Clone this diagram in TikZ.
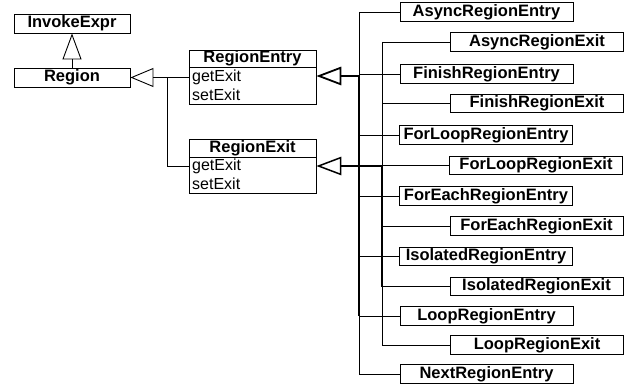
\documentclass[tikz,border=0pt]{standalone}
\usepackage{fontspec}
\setmainfont{Liberation Sans}
\usetikzlibrary{arrows.meta}
\begin{document}
\begin{tikzpicture}[x=1pt,y=-1pt,
  box/.style={draw, line width=0.9pt, rectangle, inner sep=0pt, fill=white, font=\fontsize{16.5}{16.5}\selectfont\bfseries},
  ebox/.style={box, minimum width=173pt, minimum height=18.5pt},
  lbox/.style={box, minimum width=116pt, minimum height=19pt},
  hbox/.style={box, minimum width=127pt},
  bbox/.style={draw, line width=0.9pt, rectangle, inner sep=0pt, minimum width=127pt},
  op/.style={anchor=west, inner sep=0pt, font=\fontsize{16}{16}\selectfont},
  ln/.style={line width=0.9pt},
  thk/.style={line width=1.8pt},
  inh/.style={-{Triangle[open, length=25pt, width=18.5pt]}},
]
\useasboundingbox (0,0) rectangle (626,387);

% left classes
\node[lbox] (invoke) at (72,23.5) {InvokeExpr};
\node[lbox] (region) at (72,77.5) {Region};

\node[hbox, minimum height=17pt] (reH) at (252.5,58.5) {RegionEntry};
\node[bbox, minimum height=37pt] (reB) at (252.5,85.5) {};
\node[op] (reget) at (192,77) {getExit};
\node[op] (reset) at (192,95) {setExit};

\node[hbox, minimum height=18pt] (rxH) at (252.5,148) {RegionExit};
\node[bbox, minimum height=36pt] (rxB) at (252.5,175) {};
\node[op] (rxget) at (192,166) {getExit};
\node[op] (rxset) at (192,184) {setExit};

% right classes: entries
\node[ebox] (ae) at (486.5,12) {AsyncRegionEntry};
\node[ebox] (fe) at (486.5,74) {FinishRegionEntry};
\node[ebox] (fle) at (486,135) {ForLoopRegionEntry};
\node[ebox] (fee) at (486,196) {ForEachRegionEntry};
\node[ebox] (ie) at (486,256.5) {IsolatedRegionEntry};
\node[ebox] (le) at (486.5,316) {LoopRegionEntry};
\node[ebox] (ne) at (486.5,374) {NextRegionEntry};
% exits
\node[ebox] (ax) at (537,42) {AsyncRegionExit};
\node[ebox] (fx) at (537,103.5) {FinishRegionExit};
\node[ebox] (flx) at (536,165.5) {ForLoopRegionExit};
\node[ebox] (fex) at (536.5,226) {ForEachRegionExit};
\node[ebox] (ix) at (536.5,286.5) {IsolatedRegionExit};
\node[ebox] (lx) at (537,345) {LoopRegionExit};

% inheritance to InvokeExpr
\draw[ln, -{Triangle[open, length=26pt, width=19pt]}] (region.north) -- (invoke.south);

% RegionEntry / RegionExit to Region
\coordinate (lj) at (167,77.5);
\draw[ln, -{Triangle[open, length=23pt, width=19pt]}] (reB.west |- lj) -- (region.east);
\draw[ln] (lj) |- (rxB.west |- rxget);

% entry bus
\coordinate (ve) at (359,76);
\draw[ln] (ve |- ae) -- (ve |- ne);
\draw[thk] (ve) -- (ve |- le);
\foreach \n in {ae,fe,fle,fee,ie,le,ne} \draw[ln] (ve |- \n) -- (\n.west);
\draw[thk, inh] (ve) -- (reB.east |- ve);

% exit bus
\coordinate (vx) at (382,166);
\draw[ln] (vx |- ax) -- (vx |- lx);
\draw[thk] (vx) -- (vx |- ix);
\foreach \n in {ax,fx,flx,fex,ix,lx} \draw[ln] (vx |- \n) -- (\n.west);
\draw[line width=1.5pt, inh] (vx) -- (rxB.east |- vx);
\end{tikzpicture}
\end{document}
